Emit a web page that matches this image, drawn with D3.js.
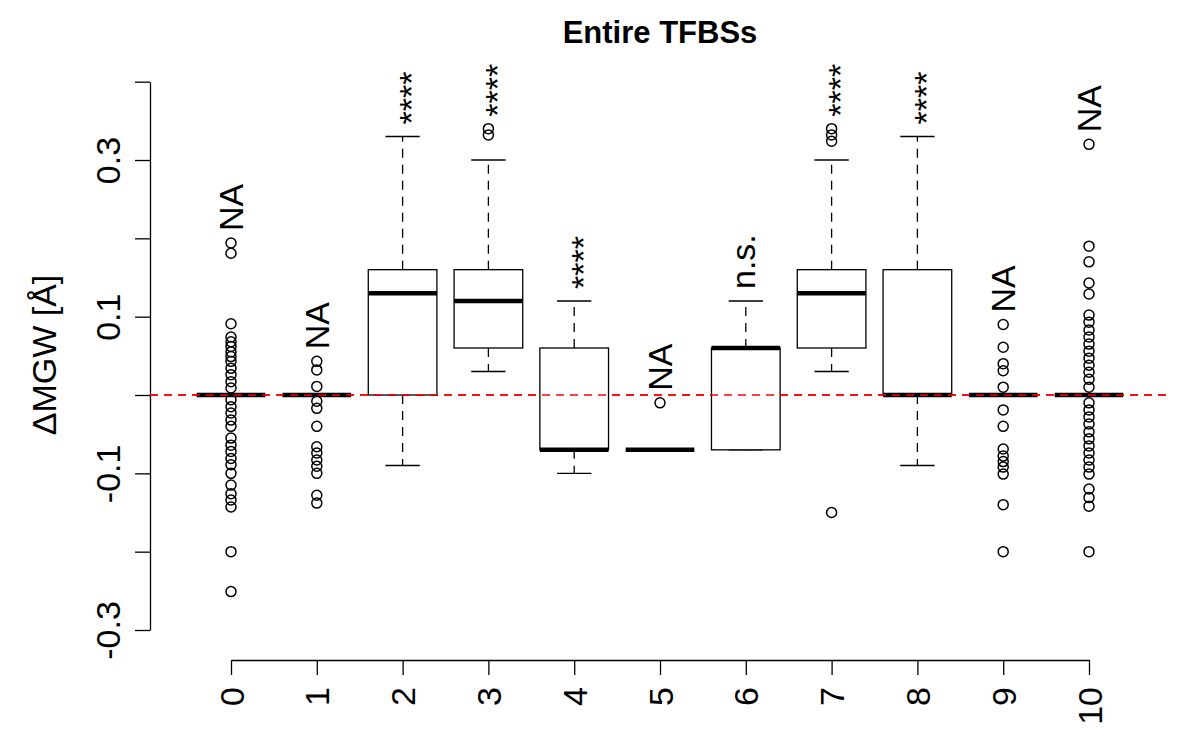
<!DOCTYPE html>
<html>
<head>
<meta charset="utf-8">
<script src="https://cdn.jsdelivr.net/npm/d3@7"></script>
<style>
  html, body { margin: 0; padding: 0; background: #fff; }
  svg { display: block; font-family: "Liberation Sans", Arial, Helvetica, sans-serif; }
</style>
</head>
<body>
<svg id="chart" width="1200" height="750"></svg>
<script>
// ---------------- data ----------------
const title = "Entire TFBSs";
const yTitle = "\u0394MGW [\u00C5]";
const categories = ["0","1","2","3","4","5","6","7","8","9","10"];
const whiskerLow  = [0, 0, -0.09, 0.03, -0.10, -0.07, -0.07, 0.03, -0.09, 0, 0];
const q1          = [0, 0,  0.00, 0.06, -0.07, -0.07, -0.07, 0.06,  0.00, 0, 0];
const medians     = [0, 0,  0.13, 0.12, -0.07, -0.07,  0.06, 0.13,  0.00, 0, 0];
const q3          = [0, 0,  0.16, 0.16,  0.06, -0.07,  0.06, 0.16,  0.16, 0, 0];
const whiskerHigh = [0, 0,  0.33, 0.30,  0.12, -0.07,  0.12, 0.30,  0.33, 0, 0];
const outliers = [
  [0.194, 0.181, 0.091, 0.074, 0.068, 0.062, 0.055, 0.049, 0.043, 0.034, 0.026, 0.017, 0.009,
   -0.006, -0.015, -0.023, -0.032, -0.040, -0.055, -0.064, -0.072, -0.081, -0.089, -0.100,
   -0.115, -0.126, -0.134, -0.143, -0.200, -0.251],
  [0.043, 0.032, 0.011, -0.008, -0.017, -0.040, -0.066, -0.074, -0.083, -0.091, -0.100, -0.128, -0.138],
  [],
  [0.340, 0.332],
  [],
  [-0.010],
  [],
  [0.340, 0.332, 0.324, -0.150],
  [],
  [0.090, 0.061, 0.040, 0.031, 0.010, -0.019, -0.040, -0.069, -0.078, -0.085, -0.092, -0.101, -0.140, -0.200],
  [0.320, 0.190, 0.170, 0.143, 0.129, 0.102, 0.093, 0.083, 0.074, 0.065, 0.056, 0.047, 0.038, 0.029, 0.020, 0.010,
   -0.010, -0.019, -0.028, -0.037, -0.047, -0.056, -0.065, -0.074, -0.083, -0.092, -0.101, -0.120, -0.131, -0.142, -0.200]
];
const sigLabels = ["NA","NA","****","****","****","NA","n.s.","****","****","NA","NA"];
const yTicks = [-0.3, -0.2, -0.1, 0, 0.1, 0.2, 0.3, 0.4];
const yTickLabels = ["-0.3", "", "-0.1", "", "0.1", "", "0.3", ""];
const refLine = 0;

// ---------------- layout ----------------
const svg = d3.select("#chart");
const plotLeft = 150, plotRight = 1170;
const x = d3.scalePoint().domain(categories).range([231, 1089]);
const step = x.step();
const y = d3.scaleLinear().domain([-0.3, 0.4]).range([630, 630 - 0.7 * 783.33]);
const boxW = step * 0.8;
const capW = boxW * 0.5;
const fontSize = 34;

// title
svg.append("text")
  .attr("x", (plotLeft + plotRight) / 2).attr("y", 43)
  .attr("text-anchor", "middle")
  .attr("font-weight", "bold").attr("font-size", 31)
  .text(title);

// y axis
const yAxis = d3.axisLeft(y)
  .tickValues(yTicks)
  .tickFormat((d, i) => yTickLabels[i])
  .tickSizeOuter(0).tickSizeInner(15).tickPadding(0);
const gy = svg.append("g").attr("transform", `translate(${plotLeft},0)`).call(yAxis);
gy.select(".domain").attr("stroke", "#000").attr("stroke-width", 1.3);
gy.selectAll(".tick line").attr("stroke", "#000").attr("stroke-width", 1.3);
gy.selectAll(".tick text")
  .attr("font-size", fontSize).attr("fill", "#000")
  .attr("text-anchor", "middle")
  .attr("x", null).attr("dy", null)
  .attr("transform", "translate(-30,0) rotate(-90)");

// y title
svg.append("text")
  .attr("transform", `translate(56,355) rotate(-90)`)
  .attr("text-anchor", "middle")
  .attr("font-size", fontSize)
  .text(yTitle);

// x axis
const xAxis = d3.axisBottom(x).tickSizeOuter(0).tickSizeInner(15).tickPadding(0);
const gx = svg.append("g").attr("transform", `translate(0,660)`).call(xAxis);
gx.select(".domain").attr("stroke", "#000").attr("stroke-width", 1.3);
gx.selectAll(".tick line").attr("stroke", "#000").attr("stroke-width", 1.3);
gx.selectAll(".tick text")
  .attr("font-size", fontSize).attr("fill", "#000")
  .attr("text-anchor", "end")
  .attr("y", null).attr("dy", null)
  .attr("transform", "translate(0,27) rotate(-90) translate(0," + (0.358 * fontSize) + ")");

// reference line
svg.append("line")
  .attr("x1", plotLeft).attr("x2", plotRight)
  .attr("y1", y(refLine)).attr("y2", y(refLine))
  .attr("stroke", "#ff0000").attr("stroke-width", 1.3)
  .attr("stroke-dasharray", "8,6");

// boxes
const g = svg.append("g");
categories.forEach((c, i) => {
  const cx = x(c);
  const gg = g.append("g");
  // whiskers (dashed)
  gg.append("line").attr("x1", cx).attr("x2", cx)
    .attr("y1", y(q3[i])).attr("y2", y(whiskerHigh[i]))
    .attr("stroke", "#000").attr("stroke-width", 1.3).attr("stroke-dasharray", "9,7");
  gg.append("line").attr("x1", cx).attr("x2", cx)
    .attr("y1", y(q1[i])).attr("y2", y(whiskerLow[i]))
    .attr("stroke", "#000").attr("stroke-width", 1.3).attr("stroke-dasharray", "9,7");
  // caps
  [whiskerHigh[i], whiskerLow[i]].forEach(v => {
    gg.append("line").attr("x1", cx - capW / 2).attr("x2", cx + capW / 2)
      .attr("y1", y(v)).attr("y2", y(v))
      .attr("stroke", "#000").attr("stroke-width", 1.3);
  });
  // box
  gg.append("rect")
    .attr("x", cx - boxW / 2).attr("width", boxW)
    .attr("y", y(q3[i])).attr("height", y(q1[i]) - y(q3[i]))
    .attr("fill", "#fff").attr("stroke", "#000").attr("stroke-width", 1.3);
  // median
  gg.append("line").attr("x1", cx - boxW / 2).attr("x2", cx + boxW / 2)
    .attr("y1", y(medians[i])).attr("y2", y(medians[i]))
    .attr("stroke", "#000").attr("stroke-width", 4.5);
  // outliers
  gg.selectAll("circle").data(outliers[i]).join("circle")
    .attr("cx", cx).attr("cy", d => y(d)).attr("r", 5)
    .attr("fill", "none").attr("stroke", "#000").attr("stroke-width", 1.5);
});

// reference line drawn again on top of the boxes, as in the reference
svg.append("line")
  .attr("x1", plotLeft).attr("x2", plotRight)
  .attr("y1", y(refLine)).attr("y2", y(refLine))
  .attr("stroke", "#ff0000").attr("stroke-width", 1.3)
  .attr("stroke-dasharray", "8,6");

// significance labels
categories.forEach((c, i) => {
  const maxV = d3.max([whiskerHigh[i], q3[i], ...outliers[i]]);
  const isStar = sigLabels[i].startsWith("*");
  const isNs = sigLabels[i] === "n.s.";
  const shift = (isStar ? 0.6 : isNs ? 0.26 : 0.358) * fontSize;
  svg.append("text")
    .attr("transform", `translate(${x(c) + shift},${y(maxV) - 12}) rotate(-90)`)
    .attr("text-anchor", "start")
    .attr("font-size", fontSize)
    .text(sigLabels[i]);
});
</script>
</body>
</html>
